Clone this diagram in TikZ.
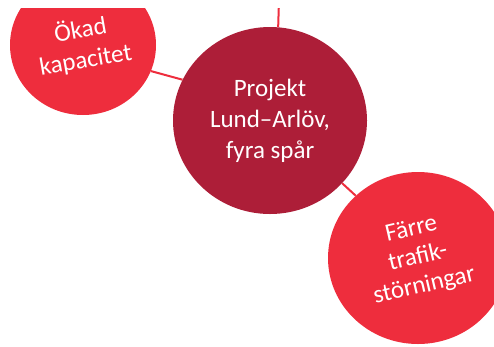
\documentclass[tikz,border=0pt]{standalone}
\usepackage{fontspec}
\setmainfont{Carlito}
\usetikzlibrary{shapes.geometric}
\definecolor{darkred}{HTML}{AD1E38}
\definecolor{brightred}{HTML}{EE2D3D}
\tikzset{
  bubble/.style={ellipse, fill=#1, draw=none, inner sep=0pt},
  bubbletext/.style={text=white, align=center, font=\fontsize{25}{30}\selectfont, inner sep=0pt},
  link/.style={draw=brightred, line width=2pt}
}
\begin{document}
\begin{tikzpicture}[x=1pt,y=-1pt]
\useasboundingbox (0,0) rectangle (494,346);
\begin{scope}
\clip (0,8) rectangle (494,346);
\node[bubble=brightred, minimum width=146pt, minimum height=140pt] (left) at (83,45) {};
\node[bubble=darkred, minimum width=194pt, minimum height=187pt] (mid) at (270,120.5) {};
\node[bubble=brightred, minimum width=180pt, minimum height=172pt] (right) at (418,258) {};
\coordinate (topend) at (279,0);
\draw[link] (left.-21) -- (mid.155);
\draw[link] (mid.-41) -- (right.135);
\draw[link] (mid.85) -- (topend);
\node[bubbletext] (lefttext) at (left.center) [rotate=10] {Ökad\\kapacitet};
\node[bubbletext, font=\fontsize{25}{31}\selectfont] (midtext) at (mid.center) {Projekt\\Lund–Arlöv,\\fyra spår};
\node[bubbletext, font=\fontsize{25}{29}\selectfont] (righttext) at (right.center) [rotate=13] {Färre\\trafik-\\störningar};
\end{scope}
\end{tikzpicture}
\end{document}
